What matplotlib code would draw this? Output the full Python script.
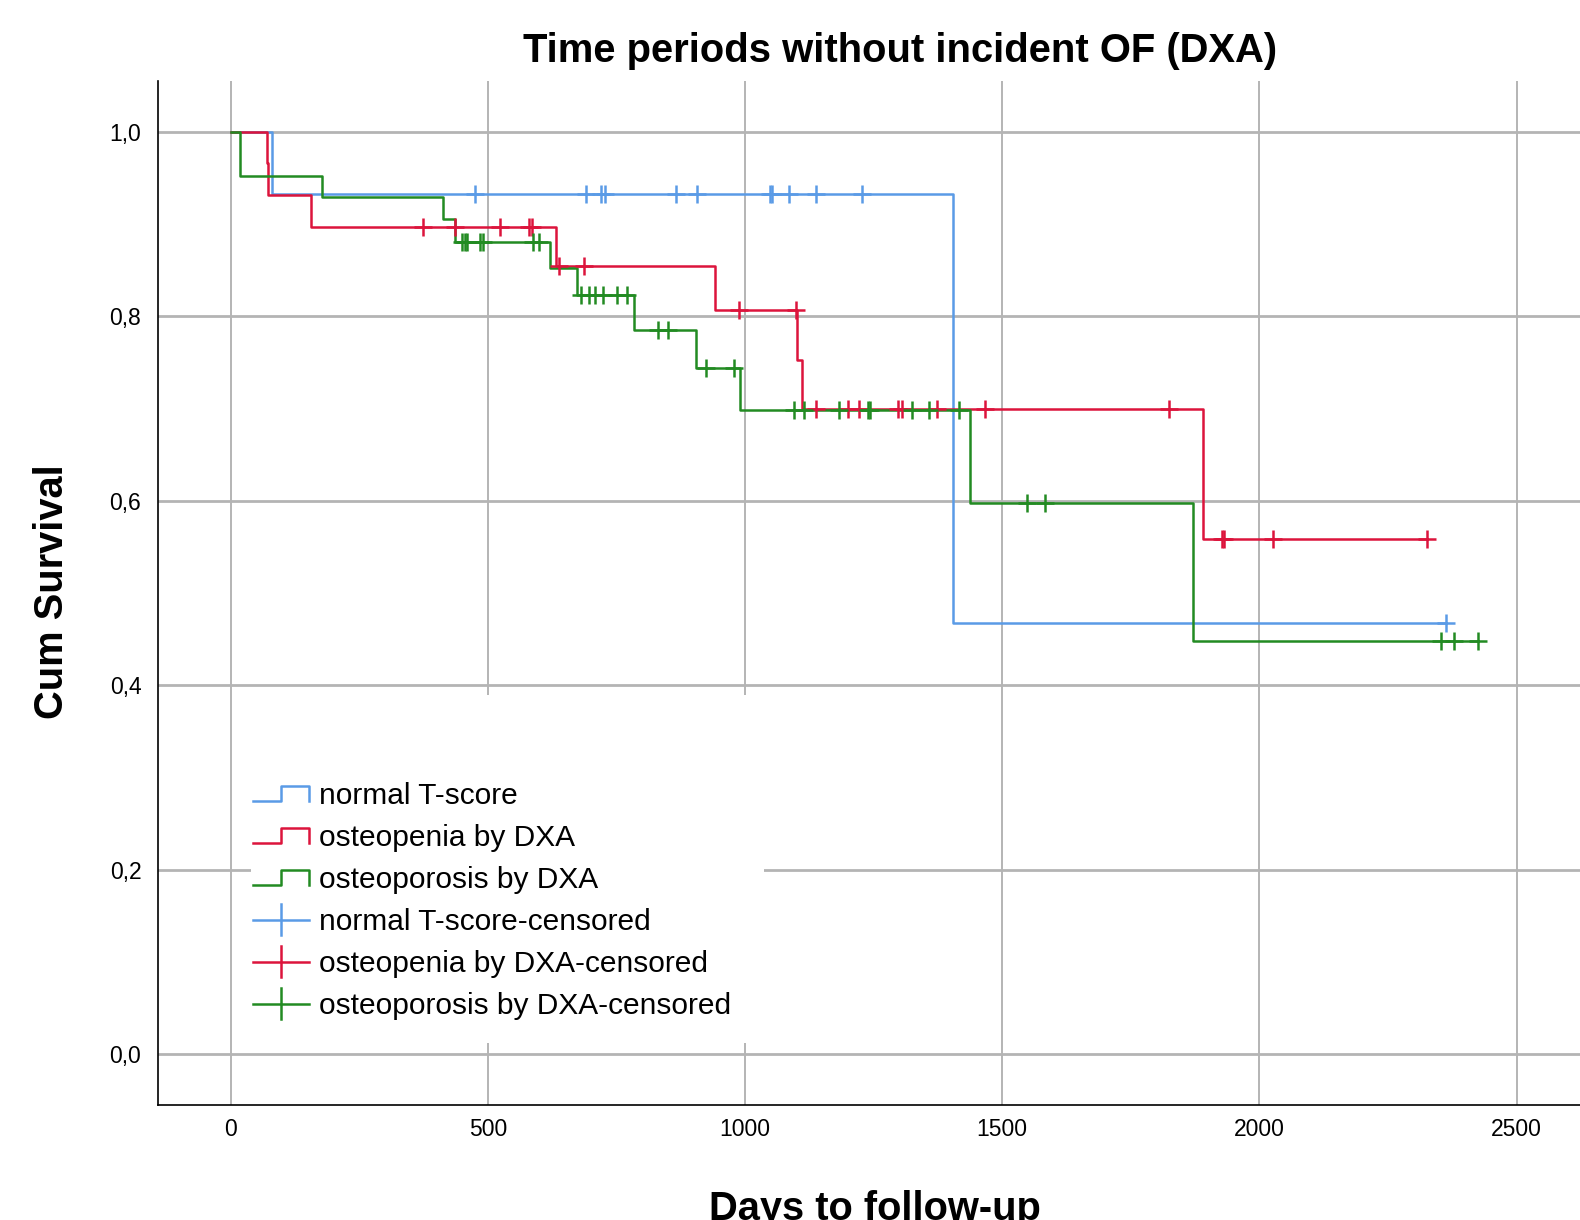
import numpy as np
import matplotlib
matplotlib.use("Agg")
import matplotlib.pyplot as plt
from matplotlib.lines import Line2D
from matplotlib.patches import Rectangle
from matplotlib.legend_handler import HandlerBase

plt.rcParams["font.family"] = ["Liberation Sans", "DejaVu Sans"]

# Kaplan-Meier estimates (days, cumulative survival)
normal_event_days = [81, 1405]
normal_surv = [0.933, 0.467]
normal_censored = [476, 690, 720, 728, 866, 906, 1049, 1053, 1086, 1138, 1228, 2362]

penia_event_days = [70, 73, 157, 632, 942, 1101, 1111, 1891]
penia_surv = [0.966, 0.931, 0.897, 0.855, 0.807, 0.753, 0.699, 0.559]
penia_censored = [374, 436, 524, 581, 586, 638, 688, 989, 1100, 1138, 1201, 1221,
                  1298, 1305, 1374, 1467, 1825, 1928, 1931, 2027, 2325]

porosis_event_days = [19, 178, 412, 436, 621, 673, 785, 905, 990, 1438, 1870]
porosis_surv = [0.952, 0.929, 0.905, 0.881, 0.852, 0.823, 0.785, 0.744, 0.698, 0.598, 0.448]
porosis_censored = [449, 456, 460, 485, 490, 588, 600, 682, 697, 708, 723, 751, 770,
                    830, 851, 924, 979, 1096, 1115, 1182, 1240, 1243, 1324, 1357,
                    1416, 1548, 1583, 2353, 2379, 2424]

group_names = ["normal T-score", "osteopenia by DXA", "osteoporosis by DXA"]
group_colors = ["#5A9BE6", "#DC143C", "#228B22"]

x_ticks = [0, 500, 1000, 1500, 2000, 2500]
y_ticks = [0.0, 0.2, 0.4, 0.6, 0.8, 1.0]
y_tick_labels = ["0,0", "0,2", "0,4", "0,6", "0,8", "1,0"]

LW = 1.8


class StepHandler(HandlerBase):
    def create_artists(self, legend, orig_handle, xdescent, ydescent, width, height, fontsize, trans):
        x0 = -xdescent
        yc = height / 2 - ydescent
        xs = [x0, x0 + width * 0.5, x0 + width * 0.5, x0 + width, x0 + width]
        ys = [yc - 5.4, yc - 5.4, yc + 5.4, yc + 5.4, yc - 5.4]
        ln = Line2D(xs, ys, color=orig_handle.get_color(), lw=LW, transform=trans)
        return [ln]


class CensorHandler(HandlerBase):
    def create_artists(self, legend, orig_handle, xdescent, ydescent, width, height, fontsize, trans):
        x0 = -xdescent
        yc = height / 2 - ydescent
        h = Line2D([x0, x0 + width], [yc, yc], color=orig_handle.get_color(), lw=LW, transform=trans)
        v = Line2D([x0 + width / 2] * 2, [yc - 11, yc + 11], color=orig_handle.get_color(), lw=LW,
                   transform=trans)
        return [h, v]


def km_curve(ax, event_days, surv, censored, color):
    last = max(max(event_days), max(censored))
    xs = [0] + list(event_days) + [last]
    ys = [1.0] + list(surv) + [surv[-1]]
    ax.step(xs, ys, where="post", color=color, lw=LW, zorder=3)
    # level of the curve at each censored time
    idx = np.searchsorted(event_days, censored, side="right")
    levels = np.array([1.0] + list(surv))[idx]
    ax.plot(censored, levels, ls="none", marker="+", ms=13, mew=1.8, color=color, zorder=4)


fig = plt.figure(figsize=(15.8, 12.2), dpi=100)
ax = fig.add_axes([0.1, 0.0943, 0.9, 0.8393])

km_curve(ax, normal_event_days, normal_surv, normal_censored, group_colors[0])
km_curve(ax, penia_event_days, penia_surv, penia_censored, group_colors[1])
km_curve(ax, porosis_event_days, porosis_surv, porosis_censored, group_colors[2])

ax.set_xlim(-141, 2623)
ax.set_ylim(-0.055, 1.055)
ax.set_xticks(x_ticks)
ax.set_yticks(y_ticks)
ax.set_yticklabels(y_tick_labels)
ax.tick_params(length=0, labelsize=16.5)
ax.tick_params(axis="x", pad=9.5)
ax.tick_params(axis="y", pad=12)

ax.set_axisbelow(True)
ax.grid(axis="x", color="#b4b4b4", lw=1.4)
ax.grid(axis="y", color="#b4b4b4", lw=2.0)
for side in ["top", "right"]:
    ax.spines[side].set_visible(False)
for side in ["left", "bottom"]:
    ax.spines[side].set_linewidth(1.2)

# white area behind the legend
ax.add_patch(Rectangle((0.0654, 0.0605), 0.3606, 0.3399, transform=ax.transAxes,
                       facecolor="white", edgecolor="none", zorder=1))

step_proxies = [Line2D([], [], color=c) for c in group_colors]
cens_proxies = [Line2D([], [], color=c, marker="+") for c in group_colors]
handler_map = {h: StepHandler() for h in step_proxies}
handler_map.update({h: CensorHandler() for h in cens_proxies})
labels = group_names + [n + "-censored" for n in group_names]
ax.legend(step_proxies + cens_proxies, labels, handler_map=handler_map,
          loc="upper left", bbox_to_anchor=(0.0668, 0.3154), frameon=False,
          fontsize=21.5, borderpad=0, borderaxespad=0, handlelength=1.87,
          handletextpad=0.35, labelspacing=0.47)

fig.text(900 / 1580, 1 - 61.7 / 1220, "Time periods without incident OF (DXA)",
         ha="center", va="baseline", fontsize=28.8, fontweight="bold")

ax.set_xlabel("Days to follow-up", fontsize=28.7, fontweight="bold")
ax.xaxis.set_label_coords(0.504, -0.1126)
ax.xaxis.label.set_verticalalignment("baseline")

ax.set_ylabel("Cum Survival", fontsize=28.7, fontweight="bold")
ax.yaxis.set_label_coords((63.3 - 158) / 1422, (1105 - 591.5) / 1024)
ax.yaxis.label.set_verticalalignment("baseline")

fig.savefig("out.png", dpi=100)
